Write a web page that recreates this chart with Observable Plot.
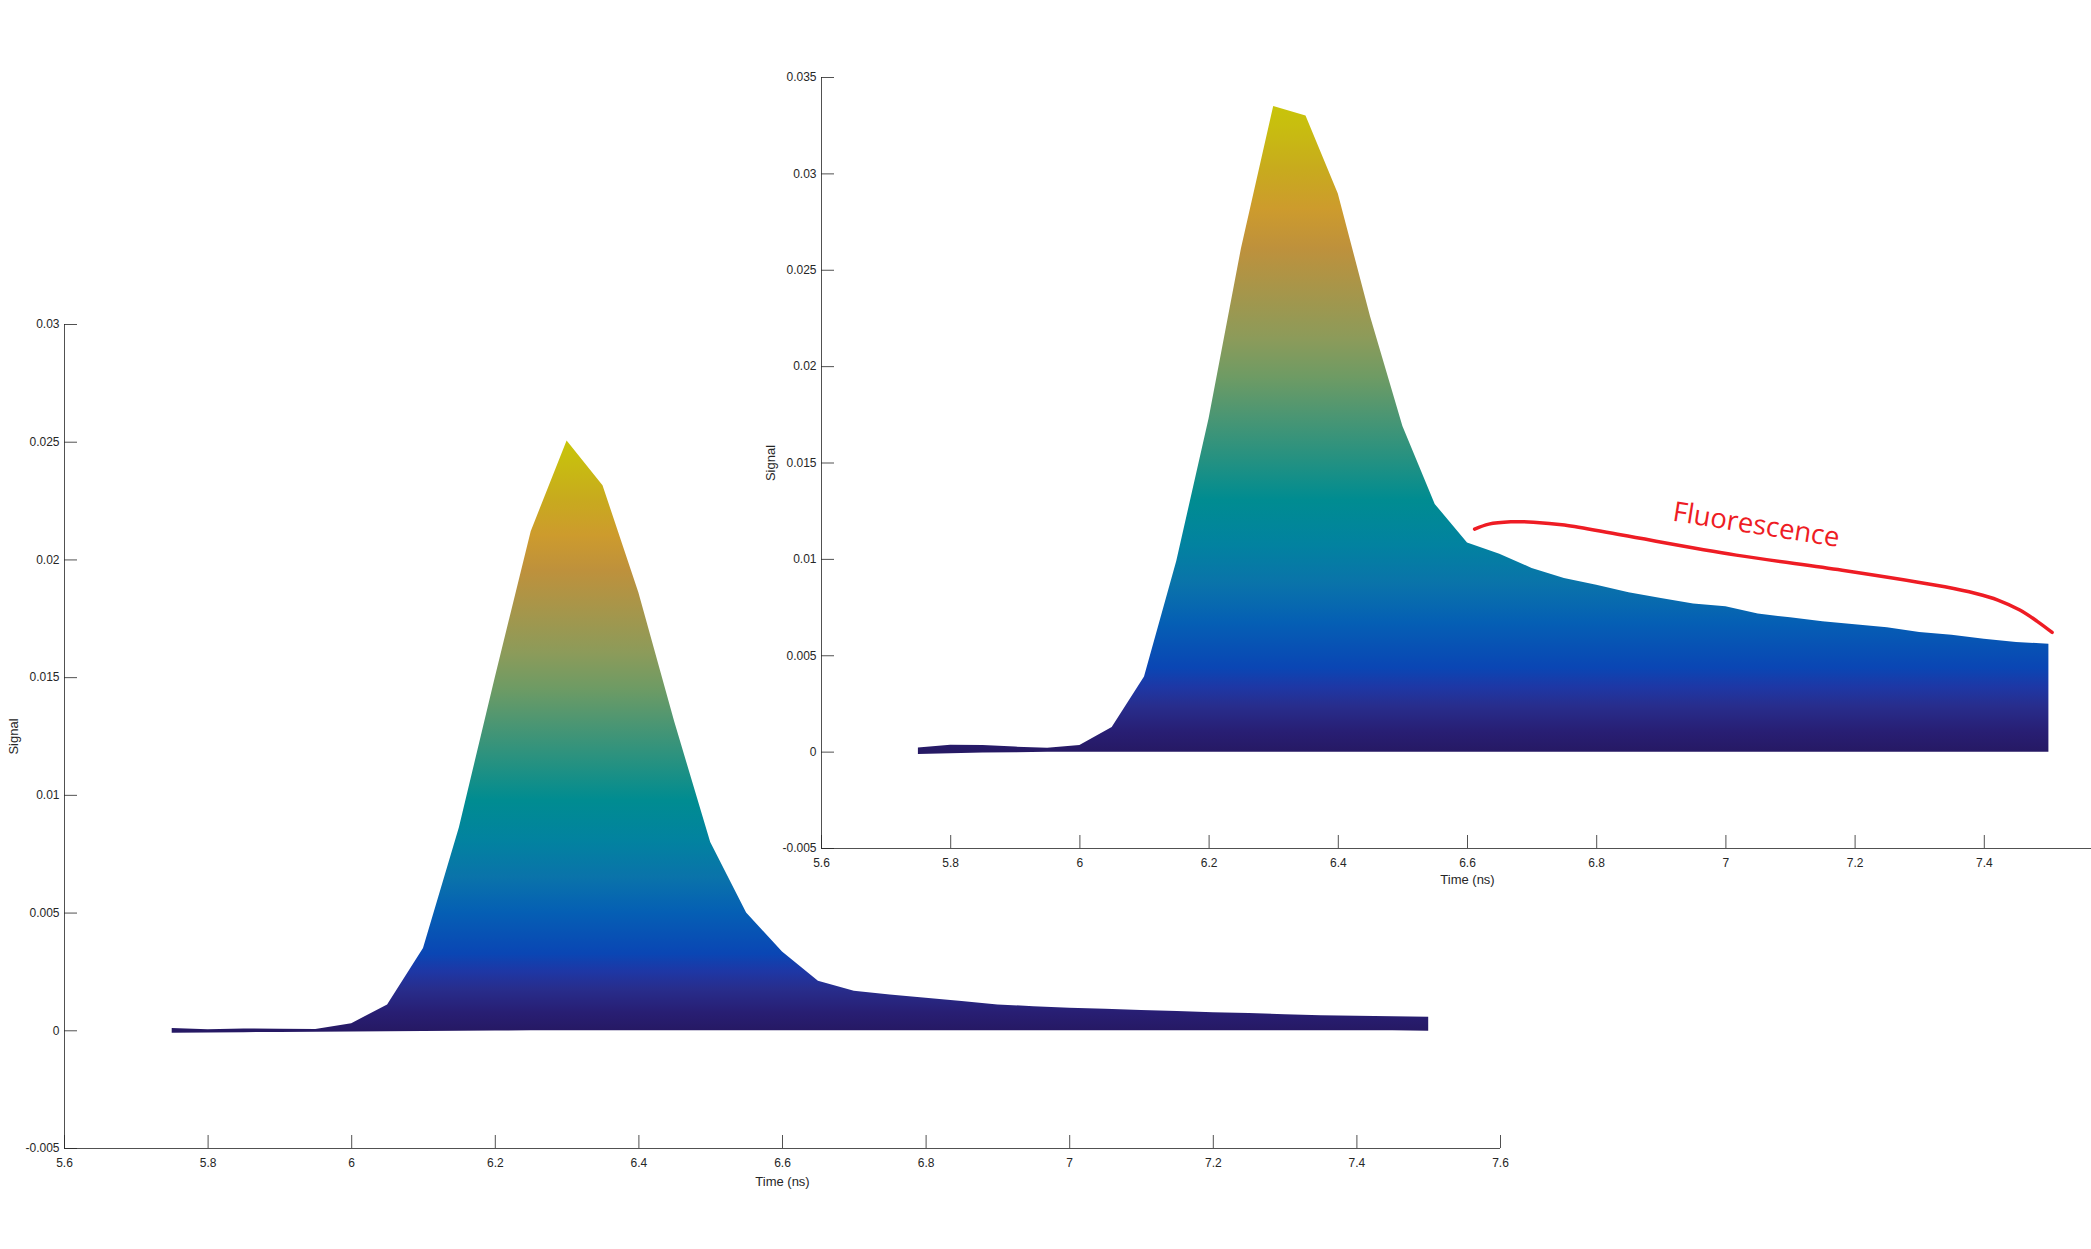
<!DOCTYPE html>
<html><head><meta charset="utf-8">
<script src="https://cdn.jsdelivr.net/npm/d3@7"></script>
<script src="https://cdn.jsdelivr.net/npm/@observablehq/plot@0.6"></script>
<style>
html,body{margin:0;padding:0;background:#fff;overflow:hidden;}
#wrap{position:relative;width:2091px;height:1249px;overflow:hidden;background:#fff;}
#wrap > svg{position:absolute;left:0;top:0;}
</style></head><body><div id="wrap"></div>
<script>
// ---- data ----
const time = [5.75,5.80,5.85,5.90,5.95,6.00,6.05,6.10,6.15,6.20,6.25,6.30,6.35,6.40,6.45,6.50,6.55,6.60,6.65,6.70,6.75,6.80,6.85,6.90,6.95,7.00,7.05,7.10,7.15,7.20,7.25,7.30,7.35,7.40,7.45,7.50];
const mainSignal = [0.00010,0.00004,0.00008,0.00006,0.00005,0.00030,0.00110,0.00350,0.00862,0.01500,0.02120,0.02505,0.02315,0.01860,0.01310,0.00800,0.00500,0.00335,0.00210,0.00168,0.00152,0.00138,0.00124,0.00110,0.00102,0.00096,0.00091,0.00086,0.00082,0.00077,0.00073,0.00068,0.00064,0.00062,0.00060,0.00058];
const mainBase = [-0.00010,-0.00009,-0.00008,-0.00007,-0.00006,-0.00005,-0.00004,-0.00003,-0.00002,-0.00001,0,0,0,0,0,0,0,0,0,0,0,0,0,0,0,0,0,0,0,0,0,0,0,0,0,-0.00002];
const insetSignal = [0.00022,0.00036,0.00035,0.00026,0.00020,0.00035,0.00128,0.00390,0.00990,0.01730,0.02610,0.03350,0.03300,0.02895,0.02258,0.01690,0.01285,0.01085,0.01027,0.00953,0.00901,0.00866,0.00827,0.00797,0.00768,0.00754,0.00716,0.00697,0.00676,0.00661,0.00645,0.00621,0.00607,0.00586,0.00569,0.00560];
const insetBase = [-0.00012,-0.00008,-0.00005,-0.00003,-0.00001,0,0,0,0,0,0,0,0,0,0,0,0,0,0,0,0,0,0,0,0,0,0,0,0,0,0,0,0,0,0,0];
const xTicks = [5.6,5.8,6,6.2,6.4,6.6,6.8,7,7.2,7.4,7.6];
const mainXLabels = [5.6,5.8,6,6.2,6.4,6.6,6.8,7,7.2,7.4,7.6];
const insetXLabels = [5.6,5.8,6,6.2,6.4,6.6,6.8,7,7.2,7.4];
const mainYTicks = [-0.005,0,0.005,0.01,0.015,0.02,0.025,0.03];
const insetYTicks = [-0.005,0,0.005,0.01,0.015,0.02,0.025,0.03,0.035];
const gradOffsets = [0,0.03,0.07,0.10,0.13,0.20,0.26,0.32,0.39,0.45,0.52,0.58,0.64,0.71,0.78,0.84,0.90,0.97,1];
const gradColors = ["#261964","#281e73","#282d8c","#1e37a5","#0a46b4","#055fb4","#0a73aa","#0282a0","#008c91","#239182","#4b9673","#6e9b64","#8c9b5a","#a5964b","#be913c","#cd9b2d","#c8aa1e","#c8be0f","#c8c40a"];
const fluorT = [6.611,6.633,6.667,6.702,6.750,6.839,7.016,7.180,7.339,7.387,7.421,7.455,7.483,7.505];
const fluorS = [0.01157,0.01183,0.01195,0.01193,0.01178,0.01126,0.01022,0.00944,0.00858,0.00823,0.00789,0.00737,0.00676,0.00621];
const noteText = ["Fluorescence"];
const noteT = [7.047];
const noteS = [0.01178];

const axisColor = "#262626";

function makeChart({id, signal, base, yTicks, xLabels, yDomain, width, height, marginLeft, marginRight, marginTop, marginBottom, xTitleDy, extra = []}) {
  const data = time.map((t, i) => ({t, hi: signal[i], lo: base[i]}));
  const peak = d3.max(signal);
  const gradient = (index, scales) => {
    const defs = d3.create("svg:defs");
    const g = defs.append("linearGradient").attr("id", id).attr("gradientUnits", "userSpaceOnUse")
      .attr("x1", 0).attr("x2", 0).attr("y1", scales.y(0)).attr("y2", scales.y(peak));
    gradOffsets.forEach((o, i) => g.append("stop").attr("offset", o).attr("stop-color", gradColors[i]));
    return defs.node();
  };
  return Plot.plot({
    width, height, marginLeft, marginRight, marginTop, marginBottom,
    x: {domain: [5.6, 7.6]},
    y: {domain: yDomain},
    style: {fontFamily: "'Liberation Sans', Arial, sans-serif", fontSize: "12px", color: axisColor, background: "transparent", maxWidth: "none", overflow: "visible"},
    marks: [
      gradient,
      Plot.areaY(data, {x: "t", y1: "lo", y2: "hi", fill: `url(#${id})`}),
      Plot.ruleY([yDomain[0]], {stroke: axisColor, strokeOpacity: 0.8}),
      Plot.ruleX([5.6], {stroke: axisColor, strokeOpacity: 0.8}),
      Plot.ruleX(xTicks, {y1: yDomain[0], y2: yDomain[0], insetTop: -13, stroke: axisColor, strokeOpacity: 0.8}),
      Plot.ruleY(yTicks, {x1: 5.6, x2: 5.6, insetRight: -13, stroke: axisColor, strokeOpacity: 0.8}),
      Plot.axisX(xLabels, {tickSize: 0, tickPadding: 10, label: null, tickFormat: d => String(d), fontSize: 12}),
      Plot.axisY(yTicks, {tickSize: 0, tickPadding: 5, label: null, tickFormat: d => String(d), fontSize: 12}),
      Plot.text(["Time (ns)"], {text: d => d, frameAnchor: "bottom", lineAnchor: "middle", textAnchor: "middle", dy: xTitleDy, fontSize: 13, fill: axisColor}),
      Plot.text(["Signal"], {text: d => d, frameAnchor: "left", textAnchor: "middle", lineAnchor: "middle", dx: -51, rotate: -90, fontSize: 13, fill: axisColor}),
      ...extra
    ]
  });
}

const wrap = document.getElementById("wrap");

const mainChart = makeChart({
  id: "gradMain", signal: mainSignal, base: mainBase, yTicks: mainYTicks, xLabels: mainXLabels, yDomain: [-0.005, 0.03],
  width: 1560, height: 1249, marginLeft: 64, marginRight: 60, marginTop: 324, marginBottom: 101, xTitleDy: 33.5
});
wrap.appendChild(mainChart);

const fluorData = fluorT.map((t, i) => ({t, s: fluorS[i]}));
const noteData = noteText.map((txt, i) => ({txt, t: noteT[i], s: noteS[i]}));
const insetChart = makeChart({
  id: "gradInset", signal: insetSignal, base: insetBase, yTicks: insetYTicks, xLabels: insetXLabels, yDomain: [-0.005, 0.035],
  width: 2200, height: 950, marginLeft: 821, marginRight: 87, marginTop: 77, marginBottom: 102, xTitleDy: 31.5,
  extra: [
    Plot.line(fluorData, {x: "t", y: "s", curve: "catmull-rom", stroke: "#ee1c24", strokeWidth: 3.5}),
    Plot.text(noteData, {x: "t", y: "s", text: "txt", rotate: 9, fontSize: 27.5, fill: "#ee1c24", fontFamily: "'Open Sans', 'Noto Sans', sans-serif"})
  ]
});
wrap.appendChild(insetChart);
</script>
</body></html>
